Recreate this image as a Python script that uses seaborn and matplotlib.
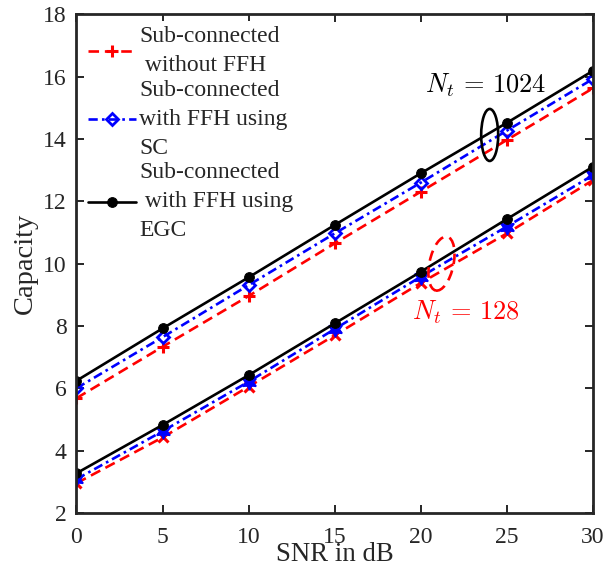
import matplotlib
matplotlib.use("Agg")
import matplotlib.pyplot as plt
import numpy as np
import pandas as pd
import seaborn as sns
from matplotlib.patches import Ellipse
from matplotlib.transforms import ScaledTranslation

# SNR grid (dB)
snr_db = [0, 5, 10, 15, 20, 25, 30]

# Nt = 1024
cap_1024_no_ffh = [5.68, 7.33, 8.96, 10.65, 12.31, 13.97, 15.63]
cap_1024_sc = [6.00, 7.64, 9.31, 10.97, 12.60, 14.27, 15.93]
cap_1024_egc = [6.24, 7.92, 9.56, 11.24, 12.90, 14.52, 16.19]

# Nt = 128
cap_128_no_ffh = [2.95, 4.42, 6.05, 7.70, 9.38, 10.97, 12.68]
cap_128_sc = [3.08, 4.62, 6.21, 7.90, 9.58, 11.19, 12.84]
cap_128_egc = [3.27, 4.82, 6.42, 8.08, 9.74, 11.43, 13.11]

legend_labels = [
    "Sub-connected\n without FFH",
    "Sub-connected\nwith FFH using\nSC",
    "Sub-connected\n with FFH using\nEGC",
]
x_label = "SNR in dB"
y_label = "Capacity"
nt_labels = [r"$N_t\,=\,1024$", r"$N_t\,=\,128$"]

sns.set_style("ticks")
plt.rcParams["font.family"] = ["Liberation Serif", "DejaVu Serif"]
plt.rcParams["mathtext.fontset"] = "cm"

dark = "#262626"
red = "#ff0000"
blue = "#0000ff"
dash = (0, (4, 2.2))
dashdot = (0, (3.5, 1.6, 1, 1.6))

fig = plt.figure(figsize=(6.09, 5.72), dpi=100)
ax = fig.add_axes([0.1256, 0.1035, 0.8481, 0.8713])

df = pd.DataFrame({
    "snr": snr_db,
    "c1024_no": cap_1024_no_ffh, "c1024_sc": cap_1024_sc, "c1024_egc": cap_1024_egc,
    "c128_no": cap_128_no_ffh, "c128_sc": cap_128_sc, "c128_egc": cap_128_egc,
})

lw = 1.9
# Nt = 1024 curves (these carry the legend entries)
sns.lineplot(data=df, x="snr", y="c1024_no", ax=ax, color=red, linestyle=dash,
             linewidth=lw, marker="+", markersize=9, markeredgewidth=2.2,
             markeredgecolor=red, label=legend_labels[0])
sns.lineplot(data=df, x="snr", y="c1024_sc", ax=ax, color=blue, linestyle=dashdot,
             linewidth=lw, marker="D", markersize=6.5, markerfacecolor="none",
             markeredgecolor=blue, markeredgewidth=2, label=legend_labels[1])
sns.lineplot(data=df, x="snr", y="c1024_egc", ax=ax, color="black", linestyle="-",
             linewidth=lw, marker="o", markersize=7, markeredgecolor="black",
             label=legend_labels[2])

# Nt = 128 curves
sns.lineplot(data=df, x="snr", y="c128_no", ax=ax, color=red, linestyle=dash,
             linewidth=lw, marker="x", markersize=7, markeredgewidth=2.2,
             markeredgecolor=red, label="_nolegend_")
sns.lineplot(data=df, x="snr", y="c128_sc", ax=ax, color=blue, linestyle=dashdot,
             linewidth=lw, marker=(6, 1, 0), markersize=11, markerfacecolor=blue,
             markeredgecolor=blue, markeredgewidth=1.2, label="_nolegend_")
sns.lineplot(data=df, x="snr", y="c128_egc", ax=ax, color="black", linestyle="-",
             linewidth=lw, marker="o", markersize=7, markeredgecolor="black",
             label="_nolegend_")

ax.set_xlim(0, 30)
ax.set_ylim(2, 18)
ax.set_xticks(np.arange(0, 31, 5))
ax.set_yticks(np.arange(2, 19, 2))
ax.tick_params(direction="in", top=True, right=True, length=6, width=1.4,
               labelsize=17, colors=dark)
ax.tick_params(axis="x", pad=10)
ax.tick_params(axis="y", pad=7)
for sp in ax.spines.values():
    sp.set_color(dark)
    sp.set_linewidth(2)
    sp.set_visible(True)

ax.set_xlabel(x_label, fontsize=19.3, color=dark, labelpad=-4)
ax.set_ylabel(y_label, fontsize=20.5, color=dark, labelpad=4)

# Group annotations
ax.text(23.77, 15.73, nt_labels[0], fontsize=19, color="black", ha="center", va="center")
ax.text(22.6, 8.45, nt_labels[1], fontsize=19, color=red, ha="center", va="center")

e1 = Ellipse((0, 0), 0.17, 0.52, angle=0, transform=fig.dpi_scale_trans +
             ScaledTranslation(24.0, 14.13, ax.transData),
             fill=False, edgecolor="black", linewidth=1.9, zorder=6)
ax.add_patch(e1)
e2 = Ellipse((0, 0), 0.24, 0.55, angle=-12, transform=fig.dpi_scale_trans +
             ScaledTranslation(21.2, 10.0, ax.transData),
             fill=False, edgecolor=red, linewidth=1.9, linestyle=(0, (4, 2.5)), zorder=6)
ax.add_patch(e2)

leg = ax.legend(loc="upper left", fontsize=17, frameon=True, framealpha=1,
                facecolor="white", edgecolor="none", handlelength=2.0,
                handletextpad=0.15, labelspacing=0.15, borderpad=0.2,
                borderaxespad=0.3, fancybox=False)
leg.set_zorder(10)
for t in leg.get_texts():
    t.set_color(dark)
    t.set_linespacing(1.5)

fig.savefig("out.png", dpi=100)
